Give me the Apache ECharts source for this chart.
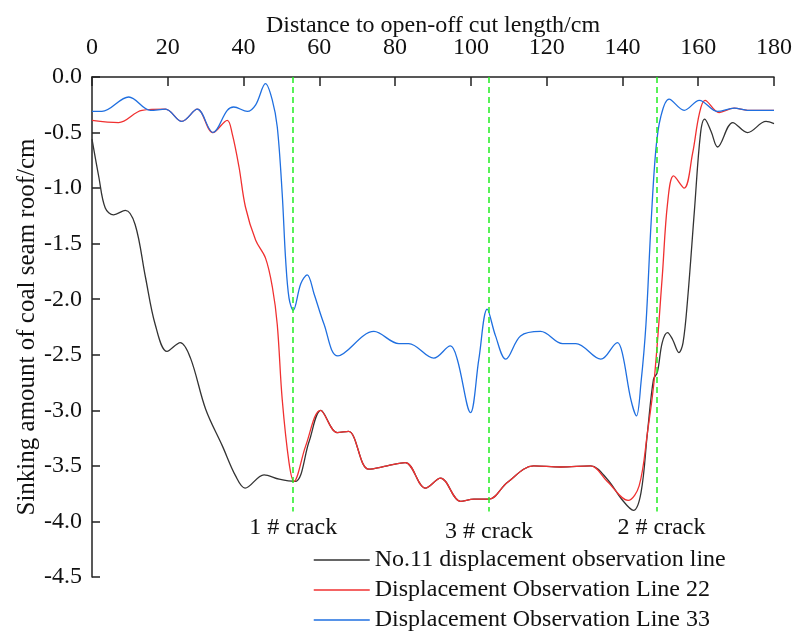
<!DOCTYPE html>
<html>
<head>
<meta charset="utf-8">
<script src="https://cdn.jsdelivr.net/npm/echarts@6/dist/echarts.min.js"></script>
<style>
  html, body { margin: 0; padding: 0; background: #fff; }
  #chart { width: 795px; height: 631px; }
</style>
</head>
<body>
<div id="chart"></div>
<script>
// No.11 line (black)
const line11X = [0, 1.8, 3.5, 5.7, 8.8, 11.4, 14.1, 16.7, 19.8, 23.3, 26, 30, 34.4, 37.9, 40.4, 45.4, 49.4, 53.6, 57.3, 60.4, 64.7, 67.7, 73, 77.9, 82.7, 88, 92, 97.3, 100.8, 104.8, 109.6, 116.6, 123.7, 131.6, 136, 139.8, 142.9, 144.9, 146.6, 148.2, 149.2, 150.5, 151.9, 153.2, 154.9, 156, 157.2, 159, 160.6, 161.7, 163.4, 165.1, 169.1, 173, 177.9, 180]
const line11Y = [-0.56, -0.9, -1.18, -1.24, -1.2, -1.33, -1.8, -2.23, -2.47, -2.39, -2.53, -2.99, -3.32, -3.59, -3.7, -3.58, -3.62, -3.64, -3.28, -3.0, -3.2, -3.19, -3.53, -3.5, -3.47, -3.7, -3.61, -3.82, -3.8, -3.8, -3.65, -3.5, -3.51, -3.5, -3.62, -3.8, -3.9, -3.74, -3.2, -2.72, -2.66, -2.39, -2.3, -2.36, -2.48, -2.39, -2.0, -1.2, -0.51, -0.38, -0.49, -0.63, -0.41, -0.5, -0.4, -0.42]

// Line 22 (red)
const line22X = [0, 7, 13.2, 19.4, 23.7, 27.8, 31.9, 35.7, 37, 38.8, 40.5, 43.2, 45.8, 47.6, 48.9, 50.2, 52, 53.3, 56.4, 60.3, 64.7, 67.7, 73, 77.9, 82.7, 88, 92, 97.3, 100.8, 104.8, 109.6, 116.6, 123.7, 131.6, 136, 141.5, 144.4, 146.6, 148.4, 150.5, 151.9, 153.5, 156.3, 158.5, 160.3, 161.8, 165.5, 169.5, 173, 180]
const line22Y = [-0.39, -0.41, -0.30, -0.29, -0.40, -0.29, -0.50, -0.39, -0.51, -0.81, -1.17, -1.47, -1.63, -1.89, -2.23, -2.9, -3.47, -3.64, -3.32, -3.0, -3.2, -3.19, -3.53, -3.5, -3.47, -3.7, -3.61, -3.82, -3.8, -3.8, -3.65, -3.5, -3.51, -3.5, -3.64, -3.81, -3.68, -3.2, -2.72, -1.8, -1.14, -0.89, -1.0, -0.69, -0.33, -0.21, -0.32, -0.28, -0.30, -0.30]

// Line 33 (blue)
const line33X = [0, 2.6, 9.7, 15.4, 19.4, 23.7, 27.8, 31.9, 35.7, 37.4, 41, 43.2, 45.8, 47.6, 48.9, 50.2, 51.1, 52, 53.1, 55.1, 56.8, 58.6, 61.2, 64.9, 74.4, 81, 83.6, 90.2, 94.6, 96.4, 99.9, 102.1, 104.3, 106.5, 109.2, 113.1, 118.4, 124.2, 127.7, 134.3, 138.7, 140, 142.2, 143.7, 144.9, 146.2, 147.5, 148.8, 150.1, 152.3, 156.3, 160.3, 165.1, 169.5, 173, 180]
const line33Y = [-0.31, -0.31, -0.18, -0.30, -0.29, -0.40, -0.29, -0.50, -0.30, -0.27, -0.31, -0.25, -0.06, -0.21, -0.45, -1.05, -1.64, -1.99, -2.10, -1.86, -1.78, -1.95, -2.22, -2.51, -2.29, -2.40, -2.40, -2.53, -2.42, -2.54, -3.02, -2.54, -2.09, -2.33, -2.54, -2.33, -2.29, -2.40, -2.40, -2.54, -2.39, -2.49, -2.90, -3.05, -2.75, -2.23, -1.35, -0.66, -0.36, -0.20, -0.30, -0.21, -0.31, -0.28, -0.30, -0.30]

const crackX = [53.1, 104.8, 149.0]
const crackNames = ['1 # crack', '3 # crack', '2 # crack']
const crackBottom = -3.91

const seriesNames = ['No.11 displacement observation line', 'Displacement Observation Line 22', 'Displacement Observation Line 33']
const seriesColors = ['#333333', '#f03030', '#1f6fe0']

const FONT = "'Liberation Serif', 'Times New Roman', serif"

const zip = (xs, ys) => xs.map((x, i) => [x, ys[i]])

const chart = echarts.init(document.getElementById('chart'))

const makeSeries = (i, xs, ys) => ({
  name: seriesNames[i],
  type: 'line',
  data: zip(xs, ys),
  smooth: 0.35,
  symbol: 'none',
  lineStyle: { color: seriesColors[i], width: 1.3 },
  itemStyle: { color: seriesColors[i] },
  z: 2 + i
})

// label tweaks for the crack marks (gap below line end, sideways nudge)
const crackLabelDist = [4, 8, 4]
const crackLabelShift = [0, 0, 5]

const blue = makeSeries(2, line33X, line33Y)
blue.markLine = {
  silent: true,
  symbol: ['none', 'none'],
  lineStyle: { color: '#22ee22', type: [6, 4], width: 1.5, opacity: 1 },
  label: {
    show: true,
    position: 'end',
    color: '#111',
    fontFamily: FONT,
    fontSize: 24,
    formatter: p => p.data.name || ''
  },
  data: crackX.map((x, i) => [
    { coord: [x, 0], name: crackNames[i], label: { distance: crackLabelDist[i], offset: [crackLabelShift[i], 0] } },
    { coord: [x, crackBottom] }
  ])
}

const option = {
  animation: false,
  backgroundColor: '#fff',
  grid: { left: 92, right: 20, top: 77, bottom: 54 },
  legend: {
    orient: 'vertical',
    left: 308,
    top: 543,
    height: 120,
    itemWidth: 56,
    itemHeight: 10,
    itemGap: 6,
    data: seriesNames,
    itemStyle: { opacity: 0 },
    lineStyle: { width: 1.5 },
    textStyle: { fontFamily: FONT, fontSize: 24, color: '#111', lineHeight: 24 }
  },
  xAxis: {
    type: 'value',
    position: 'top',
    min: 0,
    max: 180,
    interval: 20,
    name: 'Distance to open-off cut length/cm',
    nameLocation: 'middle',
    nameGap: 39,
    nameMoveOverlap: false,
    nameTextStyle: { fontFamily: FONT, fontSize: 24, color: '#111' },
    axisLine: { show: true, lineStyle: { color: '#222', width: 1.5 } },
    axisTick: { show: true, inside: true, length: 9, lineStyle: { color: '#222', width: 1.5 } },
    axisLabel: { fontFamily: FONT, fontSize: 24, color: '#111', margin: 17 },
    splitLine: { show: false }
  },
  yAxis: {
    type: 'value',
    min: -4.5,
    max: 0,
    interval: 0.5,
    name: 'Sinking amount of coal seam roof/cm',
    nameLocation: 'middle',
    nameGap: 52,
    nameMoveOverlap: false,
    nameTextStyle: { fontFamily: FONT, fontSize: 25, color: '#111' },
    axisLine: { show: true, lineStyle: { color: '#222', width: 1.5 } },
    axisTick: { show: true, inside: true, length: 8, lineStyle: { color: '#222', width: 1.5 } },
    axisLabel: { fontFamily: FONT, fontSize: 24, color: '#111', margin: 10, formatter: v => v.toFixed(1) },
    splitLine: { show: false }
  },
  series: [
    makeSeries(0, line11X, line11Y),
    makeSeries(1, line22X, line22Y),
    blue
  ]
}

chart.setOption(option)
</script>
</body>
</html>
